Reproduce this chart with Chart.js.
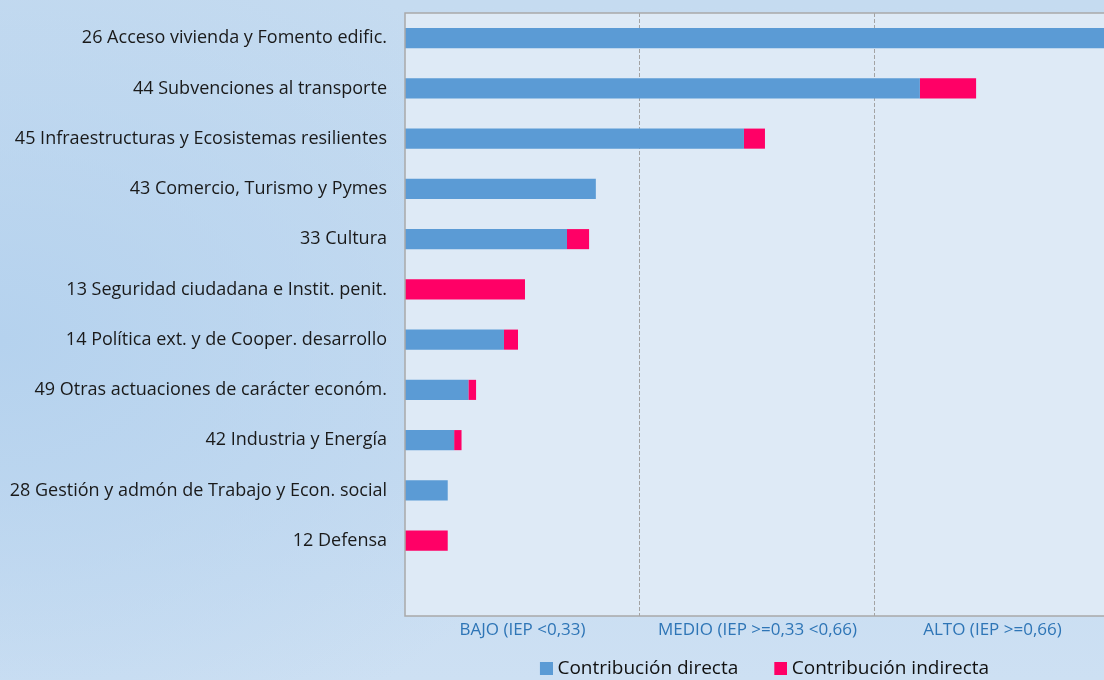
<!DOCTYPE html>
<html>
<head>
<meta charset="utf-8">
<script src="https://cdn.jsdelivr.net/npm/chart.js@4"></script>
<style>
    html, body { margin: 0; padding: 0; }
    body {
        width: 1104px; height: 680px; overflow: hidden;
        background:
            radial-gradient(ellipse 55% 65% at 0% 50%, #b5d2ee, rgba(199, 220, 241, 0) 100%),
            linear-gradient(to bottom, #c5dbf0, #c7dcf1 70%, #cde0f3);
    }
    canvas { display: block; }
</style>
</head>
<body>
<canvas id="iepChart" width="1104" height="688"></canvas>
<script>
// Categories (top to bottom); last slot is empty as in the original
const categories = [
    '26 Acceso vivienda y Fomento edific.',
    '44 Subvenciones al transporte',
    '45 Infraestructuras y Ecosistemas resilientes',
    '43 Comercio, Turismo y Pymes',
    '33 Cultura',
    '13 Seguridad ciudadana e Instit. penit.',
    '14 Política ext. y de Cooper. desarrollo',
    '49 Otras actuaciones de carácter económ.',
    '42 Industria y Energía',
    '28 Gestión y admón de Trabajo y Econ. social',
    '12 Defensa',
    ''
];

// IEP values
const directa   = [0.99, 0.723, 0.476, 0.268, 0.2275, 0, 0.139, 0.089, 0.069, 0.06, 0, null];
const indirecta = [0, 0.079, 0.0295, 0, 0.031, 0.1685, 0.0197, 0.0108, 0.0104, 0, 0.06, null];

// Band labels placed at the middle of each band
const bandTicks = [0.165, 0.495, 0.825];
const bandLabels = ['BAJO (IEP <0,33)', 'MEDIO (IEP >=0,33 <0,66)', 'ALTO (IEP >=0,66)'];
const bandLimits = [0.33, 0.66];

const BLUE = '#5b9bd5';
const PINK = '#ff0066';

// legend swatch: small square on the right side of a wider transparent image
function makeSwatch(color) {
    const c = document.createElement('canvas');
    c.width = 38;
    c.height = 13;
    const g = c.getContext('2d');
    g.fillStyle = color;
    g.fillRect(25, 0, 13, 13);
    return c;
}
const swatches = [makeSwatch(BLUE), makeSwatch(PINK)];

// Plot area background + frame
const plotBox = {
    id: 'plotBox',
    beforeDraw(chart) {
        const { ctx, chartArea: a } = chart;
        ctx.save();
        ctx.fillStyle = '#deeaf6';
        ctx.fillRect(a.left, a.top, a.right - a.left, a.bottom - a.top);
        ctx.restore();
    },
    afterDraw(chart) {
        const { ctx, chartArea: a } = chart;
        ctx.save();
        ctx.strokeStyle = '#a9a9a9';
        ctx.lineWidth = 1.5;
        ctx.beginPath();
        ctx.moveTo(a.right, a.top);
        ctx.lineTo(a.left, a.top);
        ctx.lineTo(a.left, a.bottom);
        ctx.lineTo(a.right, a.bottom);
        ctx.stroke();
        ctx.restore();
    }
};

const config = {
    type: 'bar',
    data: {
        labels: categories,
        datasets: [{
            label: 'Contribución directa',
            data: directa,
            backgroundColor: BLUE,
            borderWidth: 0,
            barPercentage: 0.8,
            categoryPercentage: 0.5
        }, {
            label: 'Contribución indirecta',
            data: indirecta,
            backgroundColor: PINK,
            borderWidth: 0,
            barPercentage: 0.8,
            categoryPercentage: 0.5
        }]
    },
    options: {
        indexAxis: 'y',
        responsive: false,
        animation: false,
        layout: { padding: { top: 13, left: 0, right: 0, bottom: 0 } },
        scales: {
            x: {
                stacked: true,
                min: 0,
                max: 0.9816,
                afterBuildTicks(scale) {
                    scale.ticks = [0.165, 0.33, 0.495, 0.66, 0.825].map(v => ({ value: v }));
                },
                afterFit(scale) {
                    scale.height = 27;
                    scale.paddingLeft = 0;
                    scale.paddingRight = 0;
                },
                ticks: {
                    autoSkip: false,
                    maxRotation: 0,
                    padding: 4,
                    color: '#2e75b6',
                    font: { family: 'Open Sans', size: 17 },
                    callback(value) {
                        const i = bandTicks.findIndex(t => Math.abs(t - value) < 1e-6);
                        return i >= 0 ? bandLabels[i] : '';
                    }
                },
                grid: {
                    drawTicks: false,
                    lineWidth: 1,
                    color(c) {
                        const v = c.tick ? c.tick.value : null;
                        return bandLimits.some(b => Math.abs(b - v) < 1e-6) ? '#a3a3a3' : 'rgba(0,0,0,0)';
                    }
                },
                border: { display: false, dash: [4, 2] }
            },
            y: {
                stacked: true,
                afterFit(scale) {
                    scale.width = 405;
                    scale.paddingTop = 0;
                    scale.paddingBottom = 0;
                },
                ticks: {
                    padding: 18,
                    color: '#1a1a1a',
                    font: { family: 'Open Sans', size: 18 }
                },
                grid: { display: false, drawTicks: false },
                border: { display: false }
            }
        },
        plugins: {
            legend: {
                position: 'bottom',
                fullSize: false,
                labels: {
                    color: '#111',
                    font: { family: 'Open Sans', size: 19 },
                    usePointStyle: true,
                    pointStyleWidth: 28,
                    boxHeight: 13,
                    padding: 16,
                    generateLabels(chart) {
                        const items = Chart.defaults.plugins.legend.labels.generateLabels(chart);
                        items.forEach((it, i) => { it.pointStyle = swatches[i]; });
                        return items;
                    }
                }
            },
            tooltip: { enabled: false }
        }
    },
    plugins: [plotBox]
};

new Chart(document.getElementById('iepChart'), config);
</script>
</body>
</html>
